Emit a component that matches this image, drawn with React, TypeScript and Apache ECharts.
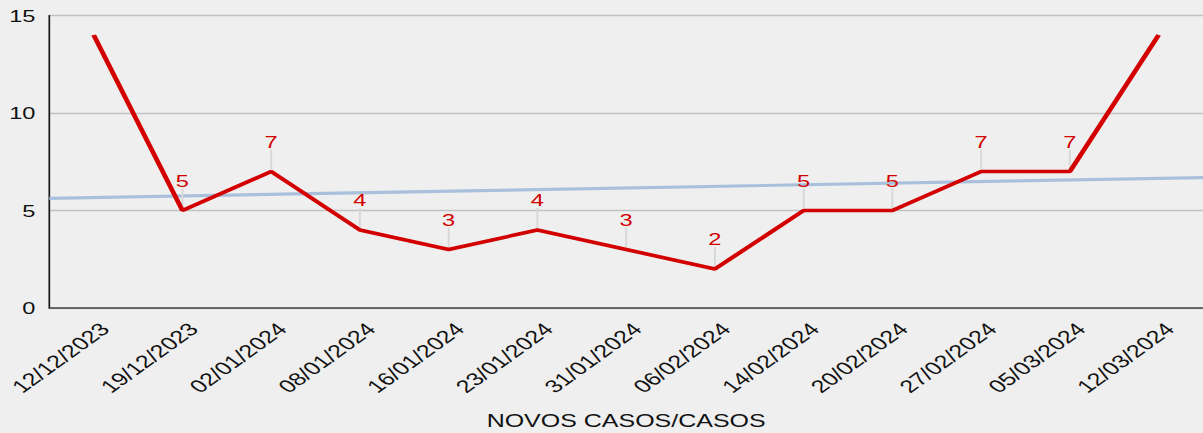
import React, { useEffect, useRef } from "react";
import * as echarts from "echarts";

const CATEGORIES = [
  "12/12/2023", "19/12/2023", "02/01/2024", "08/01/2024", "16/01/2024",
  "23/01/2024", "31/01/2024", "06/02/2024", "14/02/2024", "20/02/2024",
  "27/02/2024", "05/03/2024", "12/03/2024",
];
const VALUES = [14, 5, 7, 4, 3, 4, 3, 2, 5, 5, 7, 7, 14];
// points that carry a data label in the reference
const LABEL_POINTS = [1, 2, 3, 4, 5, 6, 7, 8, 9, 10, 11];
// linear trend line, value read at the left and right edges of the plot
const TREND_EDGES = [5.62, 6.69];
const Y_MIN = 0;
const Y_MAX = 15;
const Y_STEP = 5;
const AXIS_NAME = "NOVOS CASOS/CASOS";

const FONT = '"Liberation Sans", Arial, Helvetica, sans-serif';
const STRETCH = 1203 / 866;
const GRID_LEFT = 35.5;
const LABEL_SHIFT = 8;

export default function App() {
  const ref = useRef<HTMLDivElement>(null);

  useEffect(() => {
    if (!ref.current) return;
    const chart = echarts.init(ref.current, null, { renderer: "svg" });
    const n = CATEGORIES.length;
    const option: any = {
      animation: false,
      backgroundColor: "#efefef",
      textStyle: { fontFamily: FONT },
      grid: [
        {
          left: GRID_LEFT,
          right: 0,
          top: 15.5,
          bottom: 125,
          outerBoundsMode: "none",
          containLabel: false,
        },
        {
          left: GRID_LEFT + LABEL_SHIFT,
          right: -LABEL_SHIFT,
          top: 15.5,
          bottom: 125,
          outerBoundsMode: "none",
          containLabel: false,
        },
      ],
      xAxis: [
        {
          type: "category",
          gridIndex: 0,
          data: CATEGORIES,
          boundaryGap: true,
          axisLine: { show: true, onZero: false, lineStyle: { color: "#444", width: 1.5 } },
          axisTick: { show: false },
          axisLabel: { show: false },
          splitLine: { show: false },
          name: AXIS_NAME,
          nameLocation: "middle",
          nameGap: 104,
          nameTextStyle: { fontSize: 18, color: "#111", fontFamily: FONT },
        },
        {
          type: "value",
          gridIndex: 0,
          min: -0.5,
          max: n - 0.5,
          show: false,
        },
        {
          type: "category",
          gridIndex: 1,
          data: CATEGORIES,
          boundaryGap: true,
          axisLine: { show: false },
          axisTick: { show: false },
          splitLine: { show: false },
          axisLabel: {
            show: true,
            interval: 0,
            rotate: 45,
            margin: 18,
            fontSize: 18,
            color: "#111",
            fontFamily: FONT,
          },
        },
      ],
      yAxis: [
        {
          type: "value",
          gridIndex: 0,
          min: Y_MIN,
          max: Y_MAX,
          interval: Y_STEP,
          axisLine: { show: true, onZero: false, lineStyle: { color: "#111", width: 1.2 } },
          axisTick: { show: false },
          axisLabel: { fontSize: 17, color: "#111", margin: 10, fontFamily: FONT },
          splitLine: { show: true, lineStyle: { color: "#c2c2c2", width: 1.4 } },
        },
        {
          type: "value",
          gridIndex: 1,
          min: Y_MIN,
          max: Y_MAX,
          show: false,
        },
      ],
      series: [
        {
          type: "line",
          xAxisIndex: 1,
          yAxisIndex: 0,
          data: [
            [-0.5, TREND_EDGES[0]],
            [n - 0.5, TREND_EDGES[1]],
          ],
          showSymbol: false,
          symbol: "none",
          lineStyle: { color: "#a9c0dc", width: 3.2 },
          silent: true,
          z: 2,
        },
        {
          type: "line",
          xAxisIndex: 0,
          yAxisIndex: 0,
          data: VALUES,
          showSymbol: false,
          symbol: "none",
          lineStyle: { color: "#d20000", width: 3.6 },
          z: 4,
        },
        {
          type: "custom",
          xAxisIndex: 0,
          yAxisIndex: 0,
          data: LABEL_POINTS.map((i) => [i, VALUES[i]]),
          z: 3,
          renderItem: (_params: any, api: any) => {
            const p = api.coord([api.value(0), api.value(1)]);
            return {
              type: "group",
              children: [
                {
                  type: "line",
                  shape: { x1: p[0], y1: p[1] - 2, x2: p[0], y2: p[1] - 22 },
                  style: { stroke: "#d8d8d8", lineWidth: 1.4 },
                },
                {
                  type: "text",
                  x: p[0],
                  y: p[1] - 30,
                  style: {
                    text: String(api.value(1)),
                    fill: "#d20000",
                    fontSize: 17,
                    fontFamily: FONT,
                    align: "center",
                    verticalAlign: "middle",
                  },
                },
              ],
            };
          },
        },
      ],
    };
    chart.setOption(option);
    return () => chart.dispose();
  }, []);

  return (
    <div
      ref={ref}
      style={{
        position: "fixed",
        left: 0,
        top: 0,
        width: 866,
        height: 433,
        transform: `scaleX(${STRETCH})`,
        transformOrigin: "0 0",
      }}
    />
  );
}
